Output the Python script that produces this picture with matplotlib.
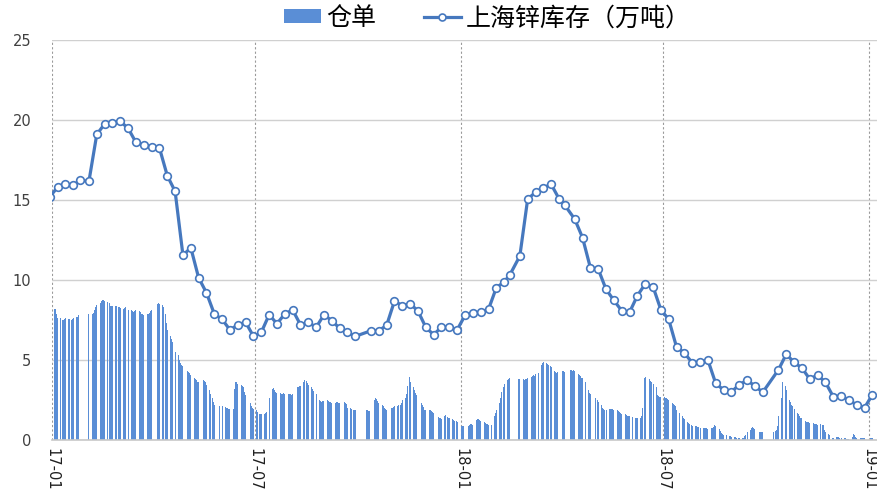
import matplotlib
matplotlib.use('Agg')
import matplotlib.pyplot as plt
import matplotlib.dates as mdates
import pandas as pd
from matplotlib.lines import Line2D
from matplotlib.patches import Patch

plt.rcParams['font.family'] = ['DejaVu Sans', 'Noto Sans CJK SC']

# SHFE closed days in the period
holidays = ['2017-01-02', '2017-01-27', '2017-01-30', '2017-01-31', '2017-02-01', '2017-02-02',
            '2017-04-03', '2017-04-04', '2017-05-01', '2017-05-29', '2017-05-30',
            '2017-10-02', '2017-10-03', '2017-10-04', '2017-10-05', '2017-10-06',
            '2018-01-01', '2018-02-15', '2018-02-16', '2018-02-19', '2018-02-20', '2018-02-21',
            '2018-04-05', '2018-04-06', '2018-04-30', '2018-05-01', '2018-06-18', '2018-09-24',
            '2018-10-01', '2018-10-02', '2018-10-03', '2018-10-04', '2018-10-05',
            '2018-12-31', '2019-01-01']

# 仓单, daily (万吨), one list per month
receipts = {
    '2017-01': [8.2, 8.2, 7.9, 7.6, 7.6, 7.5, 7.5, 7.55, 7.65, 7.55, 7.55, 7.5, 7.55, 7.6, 7.7, 7.7, 7.8, 7.85],
    '2017-02': [7.85, 7.9, 7.95, 8.1, 8.3, 8.45, 8.55, 8.7, 8.75, 8.75, 8.7, 8.65, 8.55, 8.4, 8.4, 8.35, 8.35, 8.35],
    '2017-03': [8.3, 8.3, 8.25, 8.2, 8.25, 8.3, 8.25, 8.15, 8.1, 8.05, 8.0, 8.05, 8.1, 8.05, 8.0, 7.9, 7.85, 7.8,
                7.85, 7.9, 7.95, 8.05, 8.15],
    '2017-04': [8.5, 8.55, 8.5, 8.45, 8.3, 7.9, 7.3, 6.9, 6.5, 6.3, 6.1, 5.8, 5.5, 5.3, 5.0, 4.8, 4.7, 4.6],
    '2017-05': [4.3, 4.25, 4.2, 4.05, 3.85, 3.8, 3.75, 3.65, 3.6, 3.7, 3.75, 3.7, 3.6, 3.45, 3.1, 2.9, 2.6, 2.4,
                2.2, 2.1],
    '2017-06': [2.1, 2.1, 2.05, 2.0, 2.0, 1.95, 1.95, 1.95, 3.2, 3.6, 3.65, 3.5, 3.45, 3.4, 3.3, 3.0, 2.8, 2.6,
                2.3, 2.1, 2.0, 1.95],
    '2017-07': [1.85, 1.75, 1.65, 1.6, 1.6, 1.6, 1.7, 1.75, 2.3, 2.6, 3.2, 3.25, 3.1, 3.0, 2.95, 2.95, 2.9, 2.9,
                2.95, 2.9, 2.85],
    '2017-08': [2.85, 2.85, 2.8, 2.85, 3.1, 3.3, 3.3, 3.35, 3.4, 3.6, 3.75, 3.7, 3.55, 3.45, 3.3, 3.2, 3.05, 2.95,
                2.9, 2.5, 2.45, 2.4, 2.45],
    '2017-09': [2.45, 2.5, 2.45, 2.4, 2.35, 2.3, 2.3, 2.35, 2.35, 2.3, 2.3, 2.3, 2.35, 2.3, 2.25, 2.0, 2.0, 1.95,
                1.9, 1.9, 1.85],
    '2017-10': [1.85, 1.85, 1.8, 1.8, 1.85, 2.5, 2.6, 2.55, 2.45, 2.3, 2.2, 2.1, 2.0, 1.95, 1.9, 1.95, 2.0],
    '2017-11': [2.0, 2.05, 2.1, 2.15, 2.2, 2.2, 2.3, 2.5, 2.6, 2.9, 3.4, 3.95, 3.6, 3.3, 3.1, 2.95, 2.8, 2.6,
                2.3, 2.2, 2.05, 1.9],
    '2017-12': [1.9, 1.85, 1.85, 1.8, 1.75, 1.7, 1.5, 1.45, 1.4, 1.35, 1.3, 1.5, 1.55, 1.45, 1.4, 1.35, 1.3, 1.25,
                1.2, 1.2, 1.15],
    '2018-01': [0.9, 0.85, 0.85, 0.85, 0.9, 0.95, 1.0, 1.0, 0.95, 1.25, 1.3, 1.3, 1.25, 1.2, 1.1, 1.05, 1.0, 1.0,
                0.95, 0.95, 1.2, 1.5],
    '2018-02': [1.7, 1.9, 2.3, 2.6, 3.0, 3.3, 3.5, 3.75, 3.8, 3.85, 3.8, 3.8, 3.8, 3.75, 3.8],
    '2018-03': [3.8, 3.85, 3.95, 4.0, 4.05, 4.0, 4.1, 4.2, 4.45, 4.7, 4.8, 4.85, 4.8, 4.75, 4.7, 4.6, 4.55, 4.3,
                4.25, 4.2, 4.25, 4.3],
    '2018-04': [4.3, 4.3, 4.25, 4.4, 4.35, 4.3, 4.35, 4.3, 4.1, 4.05, 4.0, 3.9, 3.85, 3.6, 3.3, 3.1, 2.95, 2.85],
    '2018-05': [2.6, 2.5, 2.4, 2.2, 2.0, 1.95, 1.9, 1.85, 1.95, 1.95, 1.95, 1.95, 1.9, 1.85, 1.8, 1.75, 1.7, 1.65,
                1.6, 1.55, 1.5, 1.5],
    '2018-06': [1.5, 1.45, 1.4, 1.4, 1.4, 1.35, 1.4, 1.5, 2.0, 3.9, 3.95, 3.8, 3.7, 3.6, 3.5, 3.3, 2.8, 2.75,
                2.7, 2.7],
    '2018-07': [2.7, 2.65, 2.6, 2.55, 2.5, 2.3, 2.25, 2.2, 2.1, 1.9, 1.7, 1.6, 1.5, 1.4, 1.3, 1.15, 1.05, 1.0,
                0.95, 0.9, 0.85, 0.85],
    '2018-08': [0.8, 0.8, 0.75, 0.75, 0.73, 0.72, 0.72, 0.7, 0.72, 0.75, 0.8, 0.95, 0.9, 0.7, 0.55, 0.45, 0.35,
                0.3, 0.3, 0.3, 0.25, 0.25, 0.2],
    '2018-09': [0.2, 0.2, 0.15, 0.15, 0.1, 0.1, 0.15, 0.25, 0.3, 0.5, 0.65, 0.75, 0.8, 0.75, 0.7, 0.5, 0.5, 0.5, 0.5],
    '2018-10': [0.5, 0.55, 0.6, 0.9, 1.5, 2.6, 3.65, 3.6, 3.4, 3.1, 2.5, 2.35, 2.2, 2.1, 1.95, 1.7, 1.6, 1.5],
    '2018-11': [1.4, 1.35, 1.2, 1.15, 1.1, 1.1, 1.05, 1.05, 1.0, 1.0, 1.0, 0.95, 1.0, 0.95, 0.95, 0.6, 0.5, 0.35,
                0.3, 0.2, 0.15, 0.1],
    '2018-12': [0.2, 0.2, 0.2, 0.15, 0.15, 0.1, 0.1, 0.05, 0.05, 0.05, 0.2, 0.35, 0.3, 0.2, 0.15, 0.1, 0.1, 0.1,
                0.1, 0.1],
    '2019-01': [0.1, 0.1, 0.1],
}

# 上海锌库存 (万吨), weekly, reported on the last trading day of each week
stock_prev = 15.2  # 2016-12-30, just left of the axis
stock = [15.8, 15.98, 15.92, 16.23,
         16.17, 19.1, 19.75, 19.8,
         19.92, 19.48, 18.6, 18.42, 18.33,
         18.25, 16.52, 15.54, 11.54,
         12.02, 10.14, 9.2, 7.88,
         7.54, 6.88, 7.2, 7.36, 6.48,
         6.73, 7.83, 7.27, 7.88,
         8.13, 7.2, 7.36, 7.04,
         7.83, 7.46, 6.98, 6.73, 6.48,
         6.83, 6.83, 7.17,
         8.69, 8.39, 8.52, 8.06,
         7.04, 6.58, 7.06, 7.06, 6.88,
         7.79, 7.96, 8.0, 8.17,
         9.52, 9.88, 10.31, 11.5,
         15.06, 15.48, 15.77, 15.98, 15.08,
         14.69, 13.81, 12.65, 10.77,
         10.69, 9.42, 8.73, 8.08,
         7.98, 9.02, 9.75, 9.58, 8.14,
         7.54, 5.81, 5.44, 4.83,
         4.88, 5.0, 3.54, 3.13, 3.0,
         3.46, 3.73, 3.38, 2.98,
         4.38, 5.36, 4.86,
         4.5, 3.81, 4.06, 3.61, 2.71,
         2.75, 2.5, 2.19, 2.02,
         2.83]

tick_dates = ['2017-01-01', '2017-07-01', '2018-01-01', '2018-07-01', '2019-01-01']

days = pd.bdate_range('2017-01-03', '2019-01-04')
days = days[~days.isin(pd.to_datetime(holidays))]
months = days.strftime('%Y-%m')
bar_vals = []
for m, vals in receipts.items():
    n = (months == m).sum()
    if n != len(vals):
        raise ValueError(f'{m}: {n} trading days, {len(vals)} values')
    bar_vals += vals

week_last = pd.Series(days, index=days).groupby(days.to_period('W-SUN')).max()
line_dates = [pd.Timestamp('2016-12-30')] + list(week_last.values)
line_vals = [stock_prev] + stock
if len(line_dates) != len(line_vals):
    raise ValueError(f'{len(line_dates)} weeks, {len(line_vals)} values')

bar_color = '#5A8ED6'
line_color = '#4678BE'

fig = plt.figure(figsize=(8.78, 4.91), dpi=100)
ax = fig.add_axes([52 / 878, 1 - 440 / 491, 826 / 878, 400 / 491])

ax.bar(days, bar_vals, width=0.85, color=bar_color, linewidth=0, zorder=2)
ax.plot(line_dates, line_vals, color=line_color, lw=2.3, marker='o', ms=5.5,
        mfc='white', mec=line_color, mew=1.2, zorder=3)

ax.set_ylim(0, 25)
ax.set_yticks(range(0, 26, 5))
ax.set_xlim(pd.Timestamp('2017-01-01'), pd.Timestamp('2019-01-09'))
ax.set_xticks(pd.to_datetime(tick_dates))
ax.xaxis.set_major_formatter(mdates.DateFormatter('%y-%m'))

ax.grid(axis='y', color='#D0D0D0', lw=1.0, zorder=0)
ax.grid(axis='x', color='#9A9A9A', lw=0.8, linestyle=(0, (2, 2)), zorder=0)
for s in ['left', 'right', 'top']:
    ax.spines[s].set_visible(False)
ax.spines['bottom'].set_color('#C8C8C8')
ax.spines['bottom'].set_linewidth(1.2)

ax.tick_params(axis='y', length=0, pad=15, labelsize=10.5, labelcolor='#404040')
ax.tick_params(axis='x', length=0, pad=6, labelsize=10.5, labelcolor='#202020')
for lab in ax.get_xticklabels():
    lab.set_rotation(-90)
    lab.set_va('top')
    lab.set_ha('center')

handles = [Patch(facecolor=bar_color, edgecolor='none'),
           Line2D([], [], color=line_color, lw=2.3, marker='o', ms=5, mfc='white', mec=line_color, mew=1.2)]
fig.legend(handles, ['仓单', '上海锌库存（万吨）'], loc='center', bbox_to_anchor=(0.555, 0.963),
           ncol=2, frameon=False, handlelength=1.5, handleheight=0.5, handletextpad=0.2,
           columnspacing=1.9, prop={'family': ['Noto Sans CJK SC'], 'size': 18})

fig.savefig('out.png', dpi=100)
